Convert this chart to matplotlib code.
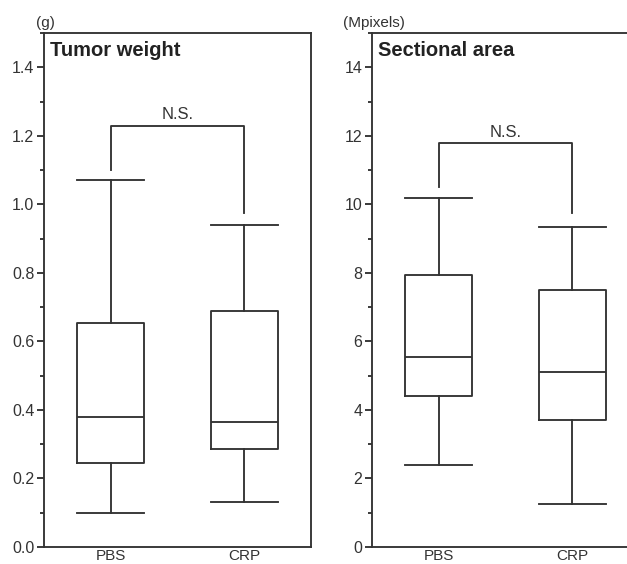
import matplotlib
matplotlib.use("Agg")
import matplotlib.pyplot as plt
from matplotlib.ticker import MultipleLocator

plt.rcParams['font.family'] = ['Liberation Sans', 'DejaVu Sans']

groups = ['PBS', 'CRP']

# tumor weight (g)
weight_low = [0.10, 0.13]
weight_q1 = [0.245, 0.285]
weight_med = [0.38, 0.365]
weight_q3 = [0.655, 0.69]
weight_high = [1.07, 0.94]
weight_bracket = [1.10, 1.23, 1.23, 0.975]

# sectional area (Mpixels)
area_low = [2.4, 1.25]
area_q1 = [4.4, 3.72]
area_med = [5.55, 5.12]
area_q3 = [7.95, 7.5]
area_high = [10.2, 9.33]
area_bracket = [10.5, 11.8, 11.8, 9.75]

col = '#333333'
lw = 1.35

fig = plt.figure(figsize=(6.27, 5.64), dpi=100)
ax1 = fig.add_axes([0.0702, 0.0301, 0.4258, 0.9113])
ax2 = fig.add_axes([0.5933, 0.0301, 0.4258, 0.9113])


def panel(ax, low, q1, med, q3, high, bracket, ymax, major, minor, fmt, title, unit, unit_x):
    stats = []
    for i in range(len(groups)):
        stats.append(dict(whislo=low[i], q1=q1[i], med=med[i], q3=q3[i],
                          whishi=high[i], fliers=[]))
    lp = dict(color=col, linewidth=lw)
    ax.bxp(stats, positions=[1, 2], widths=0.5, capwidths=0.5, showfliers=False,
           boxprops=lp, whiskerprops=lp, capprops=lp,
           medianprops=lp)
    ax.plot([1, 1, 2, 2], bracket, color=col, linewidth=lw)
    ax.text(1.5, bracket[1] + ymax * 0.006, 'N.S.', ha='center', va='bottom',
            fontsize=12, color=col)
    ax.set_xlim(0.5, 2.5)
    ax.set_ylim(0, ymax)
    ax.set_xticks([1, 2])
    ax.set_xticklabels(groups)
    ax.tick_params(axis='x', length=0, labelsize=11, pad=1.5, colors=col)
    ax.yaxis.set_major_locator(MultipleLocator(major))
    ax.yaxis.set_minor_locator(MultipleLocator(minor))
    ax.yaxis.set_major_formatter(fmt)
    ax.tick_params(axis='y', which='major', length=5, width=lw, labelsize=11.5,
                   colors=col, pad=2)
    ax.tick_params(axis='y', which='minor', length=3, width=lw, colors=col)
    for s in ax.spines.values():
        s.set_color(col)
        s.set_linewidth(lw)
    ax.text(0.022, 0.985, title, transform=ax.transAxes, ha='left', va='top',
            fontsize=14.5, fontweight='bold', color='#222222')
    ax.text(unit_x, 1.005, unit, transform=ax.transAxes, ha='left', va='bottom',
            fontsize=11, color=col)


panel(ax1, weight_low, weight_q1, weight_med, weight_q3, weight_high, weight_bracket,
      1.5, 0.2, 0.1, lambda v, p: '%.1f' % v, 'Tumor weight', '(g)', -0.03)
panel(ax2, area_low, area_q1, area_med, area_q3, area_high, area_bracket,
      15, 2, 1, lambda v, p: '%d' % v, 'Sectional area', '(Mpixels)', -0.11)

fig.savefig('out.png', dpi=100)
